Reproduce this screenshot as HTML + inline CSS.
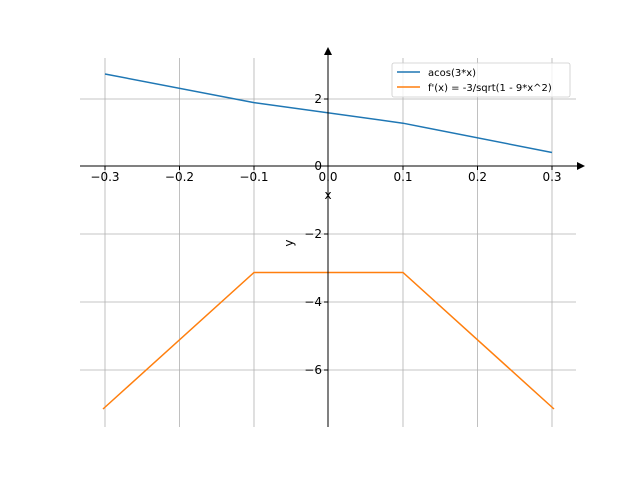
<!DOCTYPE html>
<html><head><style>body{margin:0;background:#fff}svg{display:block}text{font-family:"DejaVu Sans","Liberation Sans",sans-serif}</style></head><body>
<svg width="640" height="480" xmlns="http://www.w3.org/2000/svg">
<g stroke="#b0b0b0" stroke-width="0.8">
<line x1="105" y1="58" x2="105" y2="427"/><line x1="179.5" y1="58" x2="179.5" y2="427"/><line x1="254" y1="58" x2="254" y2="427"/><line x1="328" y1="58" x2="328" y2="427"/><line x1="403" y1="58" x2="403" y2="427"/><line x1="477.5" y1="58" x2="477.5" y2="427"/><line x1="552" y1="58" x2="552" y2="427"/>
<line x1="80" y1="99" x2="576" y2="99"/><line x1="80" y1="234" x2="576" y2="234"/><line x1="80" y1="302" x2="576" y2="302"/><line x1="80" y1="370" x2="576" y2="370"/>
</g>
<polyline points="105,74 254,102.6 403,123.2 552,152.5" fill="none" stroke="#1f77b4" stroke-width="1.5"/>
<polyline points="103,409 254,272.5 403,272.5 554,409" fill="none" stroke="#ff7f0e" stroke-width="1.5"/>
<g stroke="#000" stroke-width="1">
<line x1="80" y1="166" x2="580" y2="166"/><line x1="328" y1="427" x2="328" y2="53"/>
<line x1="105" y1="166" x2="105" y2="170"/><line x1="179.5" y1="166" x2="179.5" y2="170"/><line x1="254" y1="166" x2="254" y2="170"/><line x1="403" y1="166" x2="403" y2="170"/><line x1="477.5" y1="166" x2="477.5" y2="170"/><line x1="552" y1="166" x2="552" y2="170"/>
<line x1="324" y1="99" x2="328" y2="99"/><line x1="324" y1="166" x2="328" y2="166"/><line x1="324" y1="234" x2="328" y2="234"/><line x1="324" y1="302" x2="328" y2="302"/><line x1="324" y1="370" x2="328" y2="370"/>
</g>
<polygon points="585,166 577,162 577,170" fill="#000"/>
<polygon points="328,47 324,55 332,55" fill="#000"/>
<g font-size="12" fill="#000" text-anchor="middle">
<text x="105" y="181">−0.3</text><text x="179.5" y="181">−0.2</text><text x="254" y="181">−0.1</text><text x="328" y="181">0.0</text><text x="403" y="181">0.1</text><text x="477.5" y="181">0.2</text><text x="552" y="181">0.3</text>
<text x="328" y="199">x</text>
</g>
<g font-size="12" fill="#000" text-anchor="end">
<text x="322" y="103">2</text><text x="322" y="170">0</text><text x="322" y="238">−2</text><text x="322" y="306">−4</text><text x="322" y="374">−6</text>
</g>
<text x="293" y="243" font-size="12" transform="rotate(-90 293 243)" text-anchor="middle">y</text>
<rect x="392" y="63" width="178" height="34" rx="2" fill="#fff" fill-opacity="0.8" stroke="#ccc" stroke-width="0.8"/>
<line x1="397" y1="72" x2="420" y2="72" stroke="#1f77b4" stroke-width="1.5"/>
<line x1="397" y1="87" x2="420" y2="87" stroke="#ff7f0e" stroke-width="1.5"/>
<text x="428" y="76" font-size="10">acos(3*x)</text>
<text x="428" y="91" font-size="10">f'(x) = -3/sqrt(1 - 9*x^2)</text>
</svg>
</body></html>
